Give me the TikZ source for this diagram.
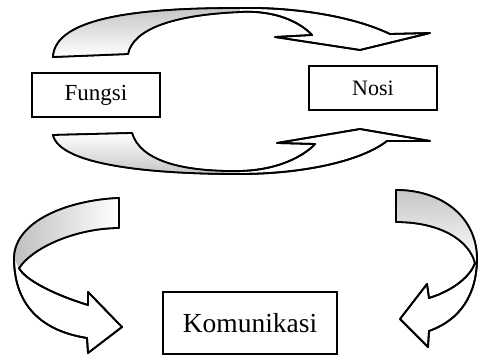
\documentclass[tikz,border=0pt]{standalone}
\usepackage{fontspec}
\setmainfont{Liberation Serif}
\begin{document}
\begin{tikzpicture}[x=1pt,y=-1pt,
  ribbon/.style={draw=black,line width=1.8pt,line join=round,fill=white},
  shade/.style={draw=none},
  label/.style={draw=black,line width=1.5pt,fill=white,inner sep=0pt}]
\useasboundingbox (0,0) rectangle (479,358);
\fill[white] (0,0) rectangle (479,358);

% ---------- top arrow (Fungsi -> Nosi)
\path[ribbon] (53,57) -- (128,54) .. controls (133,30) and (170,15) .. (240,12)
  .. controls (275,10) and (300,22) .. (312,35) -- (275,37) -- (360,50) -- (430,33) -- (390,34)
  .. controls (350,15) and (290,7) .. (240,8) .. controls (150,8) and (55,15) .. (53,57) -- cycle;
\shade[shade,top color=gray!45,bottom color=white] (53,57) -- (128,54) .. controls (133,30) and (170,15) .. (240,12)
  -- (240,8) .. controls (150,8) and (55,15) .. (53,57) -- cycle;
\draw[ribbon,fill=none] (53,57) -- (128,54) .. controls (133,30) and (170,15) .. (240,12)
  .. controls (275,10) and (300,22) .. (312,35) -- (275,37) -- (360,50) -- (430,33) -- (390,34)
  .. controls (350,15) and (290,7) .. (240,8) .. controls (150,8) and (55,15) .. (53,57) -- cycle;

% ---------- bottom arrow (Fungsi -> Nosi)
\path[ribbon] (53,135) -- (132,133) .. controls (140,160) and (180,172) .. (240,171)
  .. controls (280,170) and (305,155) .. (315,144) -- (277,143) -- (360,129) -- (430,141) -- (387,141)
  .. controls (360,162) and (300,174) .. (240,174) .. controls (150,174) and (60,165) .. (53,135) -- cycle;
\shade[shade,top color=white,bottom color=gray!45] (53,135) -- (132,133) .. controls (140,160) and (180,172) .. (240,171)
  -- (240,174) .. controls (150,174) and (60,165) .. (53,135) -- cycle;
\draw[ribbon,fill=none] (53,135) -- (132,133) .. controls (140,160) and (180,172) .. (240,171)
  .. controls (280,170) and (305,155) .. (315,144) -- (277,143) -- (360,129) -- (430,141) -- (387,141)
  .. controls (360,162) and (300,174) .. (240,174) .. controls (150,174) and (60,165) .. (53,135) -- cycle;

% ---------- left arrow (to Komunikasi)
\path[ribbon] (119,198) .. controls (70,200) and (15,220) .. (14,258)
  .. controls (14,300) and (36,330) .. (87,338) -- (88,353) -- (122,327) -- (88,292) -- (88,305)
  .. controls (55,295) and (25,280) .. (19,268)
  .. controls (35,245) and (80,228) .. (119,228) -- cycle;
\shade[shade,left color=gray!50,right color=white] (119,198) .. controls (70,200) and (15,220) .. (14,258)
  -- (19,268) .. controls (35,245) and (80,228) .. (119,228) -- cycle;
\draw[ribbon,fill=none] (119,198) .. controls (70,200) and (15,220) .. (14,258)
  .. controls (14,300) and (36,330) .. (87,338) -- (88,353) -- (122,327) -- (88,292) -- (88,305)
  .. controls (55,295) and (25,280) .. (19,268)
  .. controls (35,245) and (80,228) .. (119,228) -- cycle;

% ---------- right arrow (to Komunikasi)
\path[ribbon] (396,190) .. controls (440,190) and (476,215) .. (477,258)
  .. controls (477,295) and (460,320) .. (429,331) -- (428,347) -- (400,319) -- (427,284) -- (429,298)
  .. controls (455,290) and (471,275) .. (475,263)
  .. controls (469,240) and (440,222) .. (396,222) -- cycle;
\shade[shade,top color=gray!45,bottom color=white] (396,190) .. controls (440,190) and (476,215) .. (477,258)
  -- (475,263) .. controls (469,240) and (440,222) .. (396,222) -- cycle;
\draw[ribbon,fill=none] (396,190) .. controls (440,190) and (476,215) .. (477,258)
  .. controls (477,295) and (460,320) .. (429,331) -- (428,347) -- (400,319) -- (427,284) -- (429,298)
  .. controls (455,290) and (471,275) .. (475,263)
  .. controls (469,240) and (440,222) .. (396,222) -- cycle;

% ---------- boxes
\node[label,minimum width=128pt,minimum height=44pt,font=\fontsize{23}{27}\selectfont] (fungsi) at (96,95) {Fungsi};
\node[label,minimum width=128pt,minimum height=44pt,font=\fontsize{22}{26}\selectfont] (nosi) at (373,88) {Nosi};
\node[label,minimum width=174pt,minimum height=62pt,font=\fontsize{27.5}{32}\selectfont] (komunikasi) at (250,323) {Komunikasi};
\end{tikzpicture}
\end{document}
